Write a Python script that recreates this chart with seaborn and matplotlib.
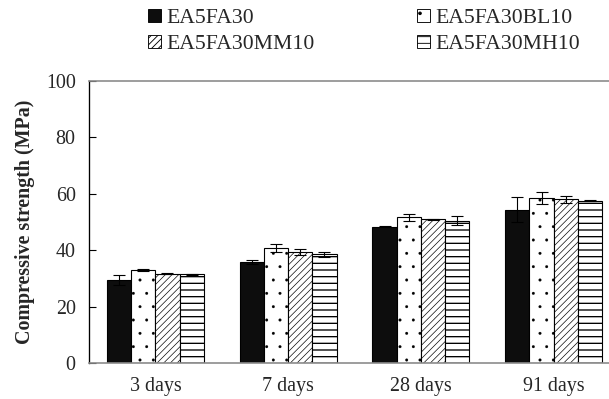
import numpy as np
import pandas as pd
import matplotlib
matplotlib.use("Agg")
import matplotlib.pyplot as plt
import seaborn as sns
from matplotlib.patches import Patch

ages = ["3 days", "7 days", "28 days", "91 days"]
mixes = ["EA5FA30", "EA5FA30BL10", "EA5FA30MM10", "EA5FA30MH10"]

strength_ea5fa30 = [29.3, 35.7, 48.3, 54.4]
strength_bl10 = [33.0, 40.7, 51.6, 58.5]
strength_mm10 = [31.7, 39.3, 50.9, 58.0]
strength_mh10 = [31.4, 38.5, 50.5, 57.6]

sd_ea5fa30 = [1.8, 0.7, 0.2, 4.3]
sd_bl10 = [0.3, 1.4, 1.2, 2.2]
sd_mm10 = [0.2, 1.0, 0.3, 1.3]
sd_mh10 = [0.3, 0.8, 1.5, 0.3]

yticks = [0, 20, 40, 60, 80, 100]

means = [strength_ea5fa30, strength_bl10, strength_mm10, strength_mh10]
sds = [sd_ea5fa30, sd_bl10, sd_mm10, sd_mh10]

df = pd.DataFrame(
    [(a, m, means[j][i]) for j, m in enumerate(mixes) for i, a in enumerate(ages)],
    columns=["age", "mix", "strength"],
)

sns.set_theme(style="white")
plt.rcParams["font.family"] = ["Liberation Serif", "DejaVu Serif"]
plt.rcParams["hatch.linewidth"] = 0.8

DPI = 80
fig = plt.figure(figsize=(609 / DPI, 399 / DPI), dpi=DPI)
ax = fig.add_axes([89 / 609, 36 / 399, 531 / 609, 282 / 399])

fills = ["#0d0d0d", "white", "white", "white"]
hatches = ["", ".", "////", "--"]
hatch_widths = [0.8, 0.2, 0.6, 1.2]

sns.barplot(data=df, x="age", y="strength", hue="mix", order=ages,
            hue_order=mixes, palette=fills, width=0.73, gap=0,
            edgecolor="black", linewidth=1.0, errorbar=None,
            legend=False, ax=ax)


def style_patch(p, h, hw):
    p.set_hatch(h)
    p.set_edgecolor("black")
    if hasattr(p, "set_hatch_linewidth"):
        p.set_hatch_linewidth(hw)
    else:
        p._hatch_linewidth = hw


for cont, h, hw, sd in zip(ax.containers, hatches, hatch_widths, sds):
    xs, ys = [], []
    for bar in cont:
        style_patch(bar, h, hw)
        xs.append(bar.get_x() + bar.get_width() / 2)
        ys.append(bar.get_height())
    ax.errorbar(xs, ys, yerr=sd, fmt="none", ecolor="black",
                elinewidth=1.0, capsize=5, capthick=1.0, zorder=5)

ax.set_xlim(-0.5, 3.5)
ax.set_ylim(0, 100)
ax.set_yticks(yticks)
ax.set_xlabel("")
ax.set_ylabel("Compressive strength (MPa)", fontsize=18, fontweight="bold",
              labelpad=10)
ax.tick_params(axis="y", direction="in", length=6, width=1, color="black",
               labelsize=18, pad=12, left=True)
ax.tick_params(axis="x", length=0, labelsize=18, pad=13)
for lab in ax.get_xticklabels() + ax.get_yticklabels():
    lab.set_color("#262626")

ax.spines["right"].set_visible(False)
ax.spines["left"].set_color("black")
ax.spines["left"].set_linewidth(1.2)
ax.spines["bottom"].set_color("#8c8c8c")
ax.spines["bottom"].set_linewidth(1.5)
ax.spines["top"].set_color("#8c8c8c")
ax.spines["top"].set_linewidth(1.5)

handles = []
for i in range(4):
    p = Patch(facecolor=fills[i], edgecolor="black", linewidth=0.8)
    style_patch(p, hatches[i], hatch_widths[i])
    handles.append(p)
order = [0, 2, 1, 3]
fig.legend([handles[i] for i in order], [mixes[i] for i in order],
           ncol=2, loc="upper left", bbox_to_anchor=(139 / 609, 1.0),
           frameon=False, fontsize=19.5, handlelength=0.6, handleheight=0.6,
           handletextpad=0.25, columnspacing=4.75, labelspacing=0.3,
           borderaxespad=0.0)

fig.savefig("out.png", dpi=DPI)
